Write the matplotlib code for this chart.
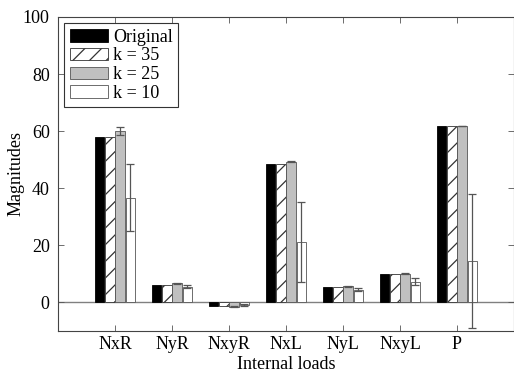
import numpy as np
import matplotlib.pyplot as plt

plt.rcParams['font.family'] = ['Liberation Serif', 'DejaVu Serif']
plt.rcParams['hatch.linewidth'] = 0.9

# Data
loads = ['NxR', 'NyR', 'NxyR', 'NxL', 'NyL', 'NxyL', 'P']
original = [58.0, 6.2, -1.3, 48.6, 5.4, 9.8, 61.7]
k35 = [58.0, 6.2, -1.3, 48.6, 5.4, 9.8, 61.7]
k25 = [60.1, 6.7, -1.5, 49.3, 5.6, 10.0, 61.7]
k25_err = [1.3, 0.2, 0.2, 0.3, 0.2, 0.2, 0.0]
k10 = [36.7, 5.4, -0.9, 21.2, 4.4, 7.3, 14.5]
k10_err = [11.8, 0.5, 0.3, 14.1, 0.5, 1.3, 23.5]

x = np.arange(1, len(loads) + 1)
w = 0.165
step = 0.18

fig = plt.figure(figsize=(5.14, 3.76), dpi=100)
ax = fig.add_axes([0.113, 0.12, 0.887, 0.835])

ax.axhline(0, color='#808080', lw=1.0, zorder=1)

ekw = dict(ecolor='#555555', elinewidth=0.9, capsize=3, capthick=0.9)
ax.bar(x - 1.5 * step, original, w, color='black', edgecolor='black',
       lw=0.6, label='Original', zorder=2)
ax.bar(x - 0.5 * step, k35, w, color='white', edgecolor='#333333',
       hatch='//', lw=0.6, label='k = 35', zorder=2)
ax.bar(x + 0.5 * step, k25, w, yerr=k25_err, color='#c0c0c0',
       edgecolor='#555555', lw=0.6, label='k = 25', error_kw=ekw, zorder=2)
ax.bar(x + 1.5 * step, k10, w, yerr=k10_err, color='white',
       edgecolor='#555555', lw=0.6, label='k = 10', error_kw=ekw, zorder=2)

ax.set_xlim(0, 8)
ax.set_ylim(-10, 100)
ax.set_xticks(x)
ax.set_xticklabels(loads)
ax.set_yticks([0, 20, 40, 60, 80, 100])
ax.tick_params(direction='in', top=True, right=True, labelsize=13,
               length=4, width=0.6, color='#555555')
ax.tick_params(axis='y', pad=6)
for s in ax.spines.values():
    s.set_color('#444444')
    s.set_linewidth(0.8)

ax.set_xlabel('Internal loads', fontsize=13, labelpad=2)
ax.set_ylabel('Magnitudes', fontsize=13, labelpad=-1)

leg = ax.legend(loc='upper left', fontsize=13, fancybox=False, framealpha=1,
                edgecolor='#333333', handlelength=2.1, handleheight=0.7,
                borderaxespad=0.35, labelspacing=0.1, handletextpad=0.3,
                borderpad=0.3)
leg.get_frame().set_linewidth(0.8)

fig.savefig('out.png', dpi=100)
